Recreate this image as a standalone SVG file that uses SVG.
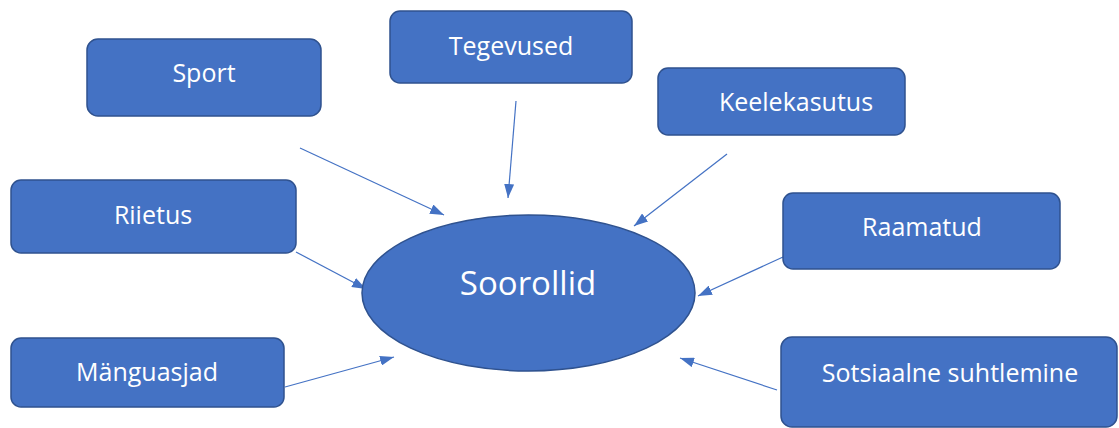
<svg xmlns="http://www.w3.org/2000/svg" width="1119" height="428" viewBox="0 0 1119 428">
<style>
.box{fill:#4472C4;stroke:#2F528F;stroke-width:1.5}
.t{fill:#fff;font-family:"Open Sans","Noto Sans",sans-serif;font-size:25px;text-anchor:middle;dominant-baseline:central}
.c{stroke:#4472C4;stroke-width:1.2;fill:none;marker-end:url(#ah)}
</style>
<defs>
<marker id="ah" viewBox="0 0 14 10" refX="14" refY="5" markerWidth="14" markerHeight="10" markerUnits="userSpaceOnUse" orient="auto">
<path d="M0,0 L14,5 L0,10 Z" fill="#4472C4"/>
</marker>
</defs>
<rect width="1119" height="428" fill="#fff"/>
<g id="connectors">
<line class="c" x1="300" y1="148" x2="444" y2="215"/>
<line class="c" x1="516" y1="101" x2="508" y2="198"/>
<line class="c" x1="727" y1="154" x2="634" y2="226"/>
<line class="c" x1="296" y1="252" x2="366" y2="289"/>
<line class="c" x1="783" y1="257" x2="698" y2="296"/>
<line class="c" x1="285" y1="387" x2="394" y2="357"/>
<line class="c" x1="777" y1="390" x2="680" y2="358"/>
</g>
<g id="center"><ellipse class="box" cx="528.5" cy="293" rx="166.5" ry="78"/><text class="t" x="528" y="282" style="font-size:33px">Soorollid</text></g>
<g id="sport"><rect class="box" x="87" y="39" width="234" height="77" rx="11"/><text class="t" x="204" y="72">Sport</text></g>
<g id="tegevused"><rect class="box" x="390" y="11" width="242" height="72" rx="10"/><text class="t" x="511" y="45">Tegevused</text></g>
<g id="keelekasutus"><rect class="box" x="658" y="68" width="247" height="67" rx="10"/><text class="t" x="796" y="101">Keelekasutus</text></g>
<g id="riietus"><rect class="box" x="11" y="180" width="285" height="73" rx="10"/><text class="t" x="153" y="214">Riietus</text></g>
<g id="raamatud"><rect class="box" x="783" y="193" width="277" height="76" rx="10"/><text class="t" x="922" y="226">Raamatud</text></g>
<g id="manguasjad"><rect class="box" x="11" y="338" width="273" height="69" rx="10"/><text class="t" x="147" y="371">Mänguasjad</text></g>
<g id="sotsiaalne"><rect class="box" x="781" y="337" width="336" height="90" rx="11"/><text class="t" x="950" y="372">Sotsiaalne suhtlemine</text></g>
</svg>
